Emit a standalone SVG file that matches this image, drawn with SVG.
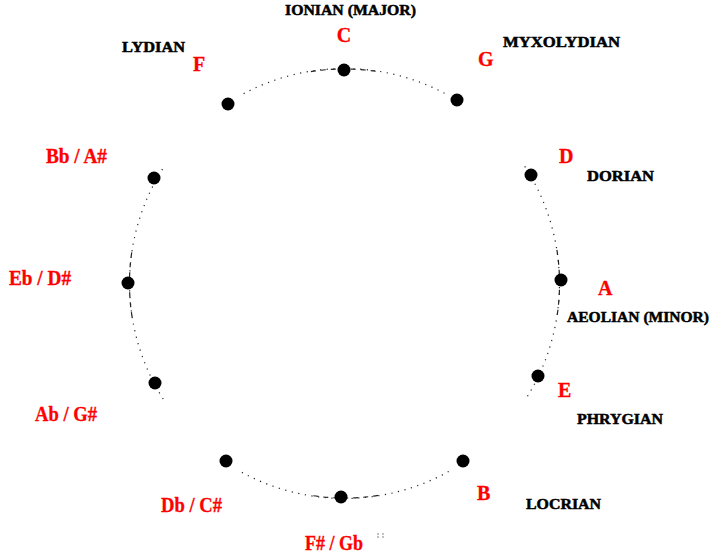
<svg xmlns="http://www.w3.org/2000/svg" width="709" height="559" viewBox="0 0 709 559">
<style>
.arc{fill:none;stroke:#222;stroke-width:1.2;stroke-dasharray:1.2 5.5}
.dash{fill:none;stroke:#222;stroke-width:1.2;stroke-dasharray:5 5}
.dot{fill:#000}
.note{font-family:'Liberation Serif','DejaVu Serif','Times New Roman',serif;font-weight:700;font-size:20px;fill:#ff0000;stroke:#ff0000;stroke-width:0.3}
.mode{font-family:'Liberation Serif','DejaVu Serif','Times New Roman',serif;font-weight:700;font-size:15px;fill:#000;stroke:#000;stroke-width:0.5}
</style>
<rect width="709" height="559" fill="#fff"/>
<g id="connectors">
<path class="arc" d="M243.6,93.7 A215,215 0 0 1 445.4,93.7"/>
<path class="arc" d="M524.8,166.4 A215,215 0 0 1 526.8,397.4"/>
<path class="arc" d="M448.7,471.5 A215,215 0 0 1 240.3,471.5"/>
<path class="arc" d="M163.2,399 A215,215 0 0 1 163.2,168"/>
<path class="dash" d="M310.9,71.6 A215,215 0 0 1 378.1,71.6"/>
<path class="dash" d="M556.9,249.9 A215,215 0 0 1 556.9,317.1"/>
<path class="dash" d="M378.1,495.4 A215,215 0 0 1 310.9,495.4"/>
<path class="dash" d="M132.1,317.1 A215,215 0 0 1 132.1,249.9"/>
<circle cx="378" cy="534" r="0.7" fill="#555"/>
<circle cx="378" cy="537" r="0.7" fill="#555"/>
<circle cx="383" cy="534" r="0.7" fill="#555"/>
<circle cx="383" cy="537" r="0.7" fill="#555"/>
</g>
<g id="node-C"><circle class="dot" cx="344" cy="70" r="6.5"/><text class="note" x="344" y="42" text-anchor="middle">C</text><text class="mode" x="285" y="15" textLength="131" lengthAdjust="spacingAndGlyphs">IONIAN (MAJOR)</text></g>
<g id="node-G"><circle class="dot" cx="457" cy="100" r="6.5"/><text class="note" x="478" y="66">G</text><text class="mode" x="503" y="47" textLength="117" lengthAdjust="spacingAndGlyphs">MYXOLYDIAN</text></g>
<g id="node-D"><circle class="dot" cx="531" cy="175" r="6.5"/><text class="note" x="559" y="163">D</text><text class="mode" x="587" y="181" textLength="67" lengthAdjust="spacingAndGlyphs">DORIAN</text></g>
<g id="node-A"><circle class="dot" cx="561" cy="280" r="6.5"/><text class="note" x="598" y="295">A</text><text class="mode" x="567" y="322" textLength="142" lengthAdjust="spacingAndGlyphs">AEOLIAN (MINOR)</text></g>
<g id="node-E"><circle class="dot" cx="538" cy="376" r="6.5"/><text class="note" x="558" y="397">E</text><text class="mode" x="577" y="424" textLength="86" lengthAdjust="spacingAndGlyphs">PHRYGIAN</text></g>
<g id="node-B"><circle class="dot" cx="463" cy="461" r="6.5"/><text class="note" x="477" y="500">B</text><text class="mode" x="526" y="509" textLength="75" lengthAdjust="spacingAndGlyphs">LOCRIAN</text></g>
<g id="node-FsGb"><circle class="dot" cx="341" cy="497" r="6.5"/><text class="note" x="305" y="550" textLength="58" lengthAdjust="spacingAndGlyphs">F# / Gb</text></g>
<g id="node-DbCs"><circle class="dot" cx="226" cy="461" r="6.5"/><text class="note" x="161" y="512" textLength="61" lengthAdjust="spacingAndGlyphs">Db / C#</text></g>
<g id="node-AbGs"><circle class="dot" cx="155" cy="383" r="6.5"/><text class="note" x="35" y="421" textLength="62" lengthAdjust="spacingAndGlyphs">Ab / G#</text></g>
<g id="node-EbDs"><circle class="dot" cx="128" cy="283" r="6.5"/><text class="note" x="9" y="285" textLength="62" lengthAdjust="spacingAndGlyphs">Eb / D#</text></g>
<g id="node-BbAs"><circle class="dot" cx="154" cy="178" r="6.5"/><text class="note" x="46" y="163" textLength="61" lengthAdjust="spacingAndGlyphs">Bb / A#</text></g>
<g id="node-F"><circle class="dot" cx="228" cy="104" r="6.5"/><text class="note" x="193" y="71">F</text><text class="mode" x="122" y="52" textLength="63" lengthAdjust="spacingAndGlyphs">LYDIAN</text></g>
</svg>
